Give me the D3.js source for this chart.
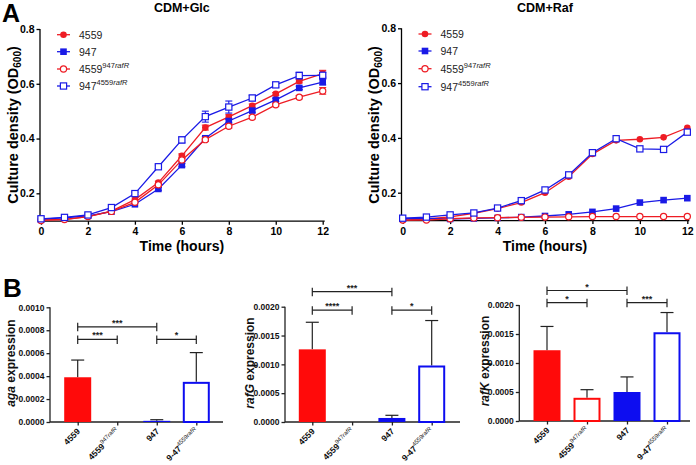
<!DOCTYPE html>
<html><head><meta charset="utf-8">
<script src="https://cdn.jsdelivr.net/npm/d3@7"></script>
<style>body{margin:0;background:#fff} svg{display:block;font-family:"Liberation Sans",Arial,sans-serif}</style>
</head><body><svg id="c" width="696" height="465"></svg>
<script>
// ---------- DATA ----------
const hours = [0,1,2,3,4,5,6,7,8,9,10,11,12];
const hourTicks = [0,2,4,6,8,10,12];
const odTicks = [0.2,0.4,0.6,0.8];

const glc4559  = [0.103,0.105,0.115,0.135,0.177,0.239,0.337,0.440,0.479,0.520,0.563,0.609,0.637];
const glc947   = [0.106,0.110,0.118,0.133,0.160,0.216,0.303,0.401,0.464,0.502,0.541,0.585,0.606];
const glc4559r = [0.101,0.104,0.115,0.134,0.167,0.231,0.322,0.396,0.445,0.478,0.523,0.551,0.574];
const glc947r  = [0.107,0.112,0.121,0.148,0.199,0.297,0.395,0.480,0.515,0.548,0.596,0.630,0.631];
const glc4559Err  = [0.002,0.002,0.002,0.003,0.004,0.005,0.007,0.009,0.008,0.006,0.005,0.006,0.012];
const glc947Err   = [0.002,0.002,0.002,0.003,0.004,0.005,0.006,0.006,0.007,0.006,0.006,0.006,0.010];
const glc4559rErr = [0.002,0.002,0.002,0.003,0.004,0.005,0.006,0.006,0.007,0.006,0.005,0.006,0.012];
const glc947rErr  = [0.002,0.002,0.003,0.004,0.005,0.006,0.011,0.020,0.022,0.010,0.008,0.012,0.010];

const raf4559  = [0.100,0.104,0.112,0.125,0.142,0.164,0.200,0.258,0.341,0.391,0.395,0.402,0.437];
const raf947   = [0.105,0.106,0.104,0.106,0.108,0.111,0.115,0.121,0.130,0.142,0.164,0.173,0.180];
const raf4559r = [0.100,0.100,0.105,0.108,0.109,0.110,0.111,0.112,0.113,0.113,0.113,0.113,0.113];
const raf947r  = [0.107,0.111,0.119,0.126,0.144,0.171,0.210,0.265,0.346,0.397,0.360,0.358,0.421];
const rafSmallErr = [0.002,0.002,0.002,0.002,0.003,0.003,0.003,0.004,0.004,0.004,0.004,0.004,0.004];

const seriesNames = [
  {main:"4559", sup:"", gene:""},
  {main:"947", sup:"", gene:""},
  {main:"4559", sup:"947", gene:"rafR"},
  {main:"947", sup:"4559", gene:"rafR"}
];

const strainMain = ["4559","4559","947","9-47"];
const strainSup  = ["","947","","4559"];
const strainGene = ["","rafR","","rafR"];
const strainIds  = ["s4559","s4559r","s947","s947r"];

const agaVals  = [0.00039, 0.000003, 0.00001, 0.00035];
const agaErr   = [0.00015, 0, 0.00001, 0.000255];
const rafGVals = [0.00126, 0.000005, 0.00007, 0.00098];
const rafGErr  = [0.00047, 0, 0.000046, 0.00078];
const rafKVals = [0.00122, 0.00040, 0.00050, 0.00153];
const rafKErr  = [0.00041, 0.00014, 0.00026, 0.00034];

const agaTicks = [0,0.0002,0.0004,0.0006,0.0008,0.0010];
const rafTicks = [0,0.0005,0.0010,0.0015,0.0020];

// significance: [from, to, bracket height (value), label]
const agaSig  = [[0,2,0.00083,"***"],[0,1,0.00072,"***"],[2,3,0.00072,"*"]];
const rafGSig = [[0,2,0.00226,"***"],[0,1,0.00194,"****"],[2,3,0.00194,"*"]];
const rafKSig = [[0,2,0.00225,"*"],[0,1,0.00204,"*"],[2,3,0.00204,"***"]];

// ---------- STYLE ----------
const RED = "#ee1c24", BLUE = "#1a1ae6", BARRED = "#ff0a0a", BARBLUE = "#0d0df0";
const styles = [
  {color:RED, shape:"circle", filled:true},
  {color:BLUE, shape:"square", filled:true},
  {color:RED, shape:"circle", filled:false},
  {color:BLUE, shape:"square", filled:false}
];

const svg = d3.select("#c");

function marker(g, st, cx, cy) {
  if (st.shape === "circle") {
    g.append("circle").attr("cx",cx).attr("cy",cy).attr("r", st.filled?3.3:3.1)
      .attr("fill", st.filled?st.color:"#fff").attr("stroke",st.color).attr("stroke-width",st.filled?0:1.2);
  } else {
    const s = st.filled?6.6:6.2;
    g.append("rect").attr("x",cx-s/2).attr("y",cy-s/2).attr("width",s).attr("height",s)
      .attr("fill", st.filled?st.color:"#fff").attr("stroke",st.color).attr("stroke-width",st.filled?0:1.2);
  }
}

function supText(t, main, sup, gene, mainSize, supSize, mainWeight, shift) {
  t.append("tspan").text(main).attr("font-size",mainSize).attr("font-weight",mainWeight);
  if (sup || gene) {
    t.append("tspan").text(sup).attr("font-size",supSize).attr("font-weight","normal").attr("dy",-shift);
    t.append("tspan").text(gene).attr("font-size",supSize).attr("font-weight","normal").attr("font-style","italic");
  }
}

function lineChart(o) {
  const x = d3.scaleLinear().domain([0,12]).range([o.x0,o.x1]);
  const y = d3.scaleLinear().domain([0.1,0.8]).range([o.yBot,o.yTop]);
  const g = svg.append("g");
  const ya = g.append("g").attr("transform",`translate(${o.axX},0)`)
    .call(d3.axisLeft(y).tickValues(odTicks).tickSize(3.5).tickSizeOuter(0).tickPadding(2).tickFormat(d3.format(".1f")));
  ya.select(".domain").attr("d",`M0,${o.yBot+0.5}V${o.yTop}`);
  const xa = g.append("g").attr("transform",`translate(0,${o.yBot+0.5})`)
    .call(d3.axisBottom(x).tickValues(hourTicks).tickSize(3.5).tickSizeOuter(0).tickPadding(3).tickFormat(d3.format("d")));
  xa.select(".domain").attr("d",`M${o.axX},0H${o.x1+2}`);
  [ya,xa].forEach(a=>{
    a.selectAll("path,line").attr("stroke","#000").attr("stroke-width",1.3);
    a.selectAll("text").attr("font-size",10.5).attr("font-weight","bold").attr("fill","#000").attr("font-family","Liberation Sans, Arial, sans-serif");
  });
  // titles
  g.append("text").attr("x",(o.x0+o.x1)/2).attr("y",12).attr("text-anchor","middle")
    .attr("font-size",12.5).attr("font-weight","bold").text(o.title);
  g.append("text").attr("x",(o.x0+o.x1)/2).attr("y",251).attr("text-anchor","middle")
    .attr("font-size",14).attr("font-weight","bold").text("Time (hours)");
  const yl = g.append("text").attr("transform",`translate(${o.ylX},125) rotate(-90)`).attr("text-anchor","middle")
    .attr("font-size",14.5).attr("font-weight","bold");
  yl.append("tspan").text("Culture density (OD");
  yl.append("tspan").text("600").attr("font-size",10).attr("dy",3);
  yl.append("tspan").text(")").attr("dy",-3);
  // series
  o.series.forEach((s,i)=>{
    const st = styles[i];
    const sg = g.append("g");
    sg.append("path").datum(hours).attr("fill","none").attr("stroke",st.color).attr("stroke-width",1.3)
      .attr("d", d3.line().x(h=>x(h)).y((h,k)=>y(s.v[k])));
    hours.forEach((h,k)=>{
      const e = s.e[k];
      if (e > 0.004) {
        sg.append("line").attr("x1",x(h)).attr("x2",x(h)).attr("y1",y(s.v[k]-e)).attr("y2",y(s.v[k]+e)).attr("stroke",st.color).attr("stroke-width",1.1);
        [s.v[k]-e, s.v[k]+e].forEach(v=> sg.append("line").attr("x1",x(h)-3.5).attr("x2",x(h)+3.5).attr("y1",y(v)).attr("y2",y(v)).attr("stroke",st.color).attr("stroke-width",1.1));
      }
    });
    hours.forEach((h,k)=> marker(sg, st, x(h), y(s.v[k])));
  });
  // legend
  seriesNames.forEach((n,i)=>{
    const st = styles[i]; const ly = o.legY[i];
    g.append("line").attr("x1",o.legX-6.5).attr("x2",o.legX+6.5).attr("y1",ly).attr("y2",ly).attr("stroke",st.color).attr("stroke-width",1.3);
    marker(g, st, o.legX, ly);
    const t = g.append("text").attr("x",o.legX+15.5).attr("y",ly+4).attr("fill","#222");
    supText(t, n.main, n.sup, n.gene, 10.5, 7.5, "normal", 5);
  });
}

lineChart({x0:41, x1:322.7, yTop:29, yBot:220.7, axX:40, title:"CDM+Glc", ylX:18,
  legX:63.5, legY:[34.7,51.7,69,86],
  series:[{v:glc4559,e:glc4559Err},{v:glc947,e:glc947Err},{v:glc4559r,e:glc4559rErr},{v:glc947r,e:glc947rErr}]});
lineChart({x0:402.7, x1:687.3, yTop:28.3, yBot:220.1, axX:401.5, title:"CDM+Raf", ylX:379,
  legX:425, legY:[34,51,68.7,86.7],
  series:[{v:raf4559,e:rafSmallErr},{v:raf947,e:rafSmallErr},{v:raf4559r,e:rafSmallErr},{v:raf947r,e:rafSmallErr}]});

// panel letters
svg.append("text").attr("x",2).attr("y",22).attr("font-size",25).attr("font-weight","bold").text("A");
svg.append("text").attr("x",3).attr("y",297).attr("font-size",26).attr("font-weight","bold").text("B");

const barStyles = [
  {fill:BARRED, stroke:BARRED, open:false},
  {fill:"#fff", stroke:BARRED, open:true},
  {fill:BARBLUE, stroke:BARBLUE, open:false},
  {fill:"#fff", stroke:BARBLUE, open:true}
];

function barChart(o) {
  const y = d3.scaleLinear().domain([0,o.yMax]).range([o.yBot,o.yTop]);
  const x = d3.scalePoint().domain(strainIds).range([o.c0,o.c1]);
  const bw = 27;
  const g = svg.append("g");
  const ya = g.append("g").attr("transform",`translate(${o.axX},0)`)
    .call(d3.axisLeft(y).tickValues(o.ticks).tickSize(3.5).tickSizeOuter(0).tickPadding(2).tickFormat(d3.format(".4f")));
  ya.select(".domain").attr("d",`M0,${o.yBot}V${o.yTop}`);
  const xa = g.append("g").attr("transform",`translate(0,${o.yBot})`)
    .call(d3.axisBottom(x).tickSize(3.5).tickSizeOuter(0).tickFormat(""));
  xa.select(".domain").attr("d",`M${o.axX},0H${o.xEnd}`);
  [ya,xa].forEach(a=>{
    a.selectAll("path,line").attr("stroke","#222").attr("stroke-width",1.3);
    a.selectAll("text").attr("font-size",8.5).attr("font-weight","bold").attr("fill","#111").attr("font-family","Liberation Sans, Arial, sans-serif");
  });
  // bars
  strainIds.forEach((id,i)=>{
    const st = barStyles[i]; const cx = x(id);
    const v = o.vals[i], e = o.errs[i];
    if (e > 0) {
      g.append("line").attr("x1",cx).attr("x2",cx).attr("y1",y(v)).attr("y2",y(v+e)).attr("stroke","#222").attr("stroke-width",1.2);
      g.append("line").attr("x1",cx-6.5).attr("x2",cx+6.5).attr("y1",y(v+e)).attr("y2",y(v+e)).attr("stroke","#222").attr("stroke-width",1.2);
    }
    const yt = y(v), h = o.yBot - yt;
    if (st.open) {
      g.append("rect").attr("x",cx-bw/2+1).attr("y",yt+1).attr("width",bw-2).attr("height",Math.max(0,h-1))
        .attr("fill","#fff").attr("stroke",st.stroke).attr("stroke-width",2);
    } else {
      g.append("rect").attr("x",cx-bw/2).attr("y",yt).attr("width",bw).attr("height",h).attr("fill",st.fill);
    }
    // x label
    const t = g.append("text").attr("transform",`translate(${cx+3},${o.yBot+10}) rotate(-45)`)
      .attr("text-anchor","end").attr("fill","#111");
    supText(t, strainMain[i], strainSup[i], strainGene[i], 8.5, 6, "bold", 4);
  });
  // significance
  o.sig.forEach(([a,b,lv,lab])=>{
    const xa_ = x(strainIds[a]), xb = x(strainIds[b]), yy = y(lv);
    g.append("line").attr("x1",xa_).attr("x2",xb).attr("y1",yy).attr("y2",yy).attr("stroke","#222").attr("stroke-width",1.2);
    [xa_,xb].forEach(xx=> g.append("line").attr("x1",xx).attr("x2",xx).attr("y1",yy-4).attr("y2",yy+4.5).attr("stroke","#222").attr("stroke-width",1.2));
    g.append("text").attr("x",(xa_+xb)/2).attr("y",yy-1).attr("text-anchor","middle").attr("font-size",9).attr("font-weight","bold").attr("fill","#222").text(lab);
  });
  // y label
  const yl = g.append("text").attr("transform",`translate(${o.ylX},${o.ylY}) rotate(-90)`).attr("text-anchor","middle")
    .attr("font-size",12).attr("font-weight","bold").attr("fill","#111");
  yl.append("tspan").text(o.gene).attr("font-style","italic");
  yl.append("tspan").text(" expression");
}

barChart({axX:50, yTop:307.3, yBot:422, yMax:0.0010, ticks:agaTicks, c0:77.7, c1:196.3, xEnd:223,
  vals:agaVals, errs:agaErr, sig:agaSig, gene:"aga", ylX:15, ylY:363});
barChart({axX:285, yTop:306.7, yBot:422, yMax:0.0020, ticks:rafTicks, c0:312.3, c1:431.7, xEnd:460,
  vals:rafGVals, errs:rafGErr, sig:rafGSig, gene:"rafG", ylX:254, ylY:363});
barChart({axX:519.3, yTop:305, yBot:421, yMax:0.0020, ticks:rafTicks, c0:547, c1:667, xEnd:690,
  vals:rafKVals, errs:rafKErr, sig:rafKSig, gene:"rafK", ylX:489, ylY:361});
</script>
</body></html>
